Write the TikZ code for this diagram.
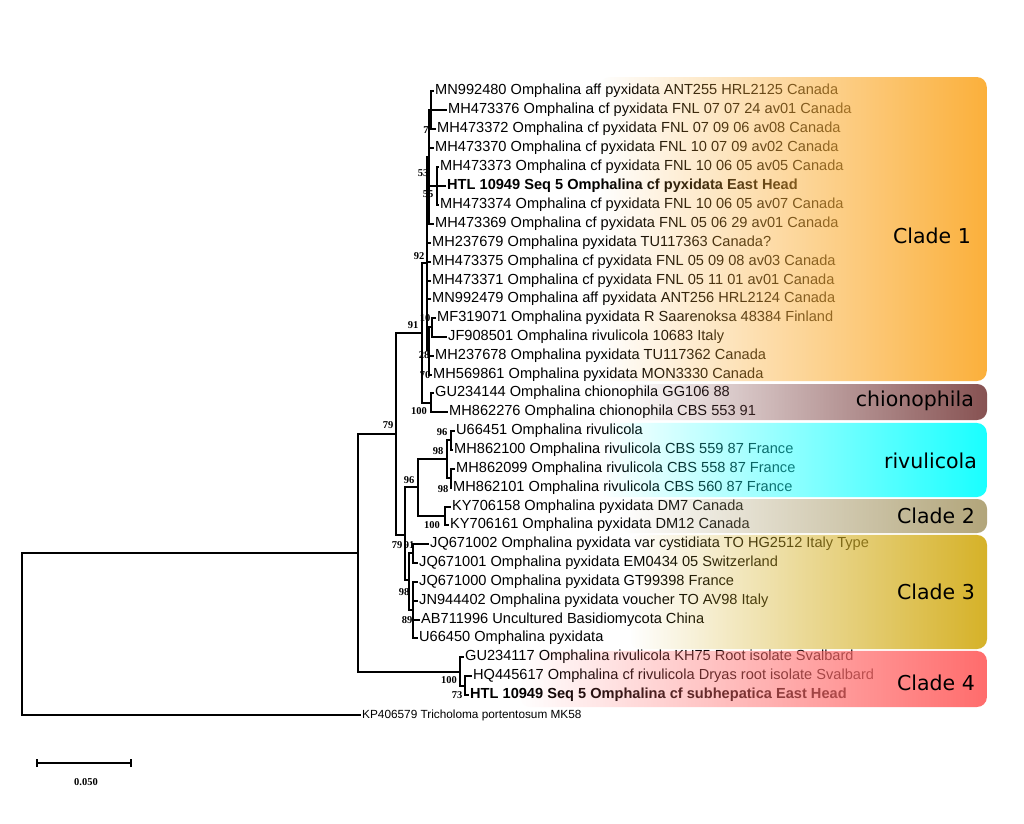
\documentclass[tikz,border=0pt]{standalone}
\usepackage{fontspec}
\setmainfont{Liberation Sans}
\newfontfamily\bsfont{Liberation Serif}
\newfontfamily\cladefont{DejaVu Sans}
\usetikzlibrary{fadings}
\tikzfading[name=fadeR, left color=transparent!100, middle color=transparent!68, right color=transparent!0]
\definecolor{cOne}{RGB}{251,176,59}
\definecolor{cChi}{RGB}{135,82,82}
\definecolor{cRiv}{RGB}{25,255,255}
\definecolor{cTwo}{RGB}{178,165,122}
\definecolor{cThree}{RGB}{214,178,40}
\definecolor{cFour}{RGB}{255,108,108}
\begin{document}
\begin{tikzpicture}[x=1pt,y=-1pt,
  leaf/.style={anchor=west, inner sep=1.5pt, font=\fontsize{14.6}{16}\selectfont},
  bs/.style={inner sep=0pt, font=\bsfont\bfseries\fontsize{10.5}{11}\selectfont},
  clade/.style={anchor=east, inner sep=0pt, font=\cladefont\fontsize{20.5}{22}\selectfont},
  edge/.style={line width=1.1pt, black},
  cladebox/.style={rounded corners=10pt, path fading=fadeR}]
\useasboundingbox (0,0) rectangle (1024,823);
\fill[white] (0,0) rectangle (1024,823);
% leaves
\node[leaf] (t1) at (433.5,91) {MN992480 Omphalina aff pyxidata ANT255 HRL2125 Canada};
\node[leaf] (t2) at (446.5,110) {MH473376 Omphalina cf pyxidata FNL 07 07 24 av01 Canada};
\node[leaf] (t3) at (435.5,129) {MH473372 Omphalina cf pyxidata FNL 07 09 06 av08 Canada};
\node[leaf] (t4) at (433.5,148) {MH473370 Omphalina cf pyxidata FNL 10 07 09 av02 Canada};
\node[leaf] (t5) at (438.5,167) {MH473373 Omphalina cf pyxidata FNL 10 06 05 av05 Canada};
\node[leaf] (t6) at (445.5,186) {\textbf{HTL 10949 Seq 5 Omphalina cf pyxidata East Head}};
\node[leaf] (t7) at (438.5,205) {MH473374 Omphalina cf pyxidata FNL 10 06 05 av07 Canada};
\node[leaf] (t8) at (433.5,224) {MH473369 Omphalina cf pyxidata FNL 05 06 29 av01 Canada};
\node[leaf] (t9) at (430.5,243) {MH237679 Omphalina pyxidata TU117363 Canada?};
\node[leaf] (t10) at (430.5,262) {MH473375 Omphalina cf pyxidata FNL 05 09 08 av03 Canada};
\node[leaf] (t11) at (430.5,281) {MH473371 Omphalina cf pyxidata FNL 05 11 01 av01 Canada};
\node[leaf] (t12) at (430.5,299) {MN992479 Omphalina aff pyxidata ANT256 HRL2124 Canada};
\node[leaf] (t13) at (435.5,318) {MF319071 Omphalina pyxidata R Saarenoksa 48384 Finland};
\node[leaf] (t14) at (446.5,337) {JF908501 Omphalina rivulicola 10683 Italy};
\node[leaf] (t15) at (433.5,356) {MH237678 Omphalina pyxidata TU117362 Canada};
\node[leaf] (t16) at (431.5,375) {MH569861 Omphalina pyxidata MON3330 Canada};
\node[leaf] (t17) at (433.5,393) {GU234144 Omphalina chionophila GG106 88};
\node[leaf] (t18) at (447.5,412) {MH862276 Omphalina chionophila CBS 553 91};
\node[leaf] (t19) at (454.5,431) {U66451 Omphalina rivulicola};
\node[leaf] (t20) at (452.5,450) {MH862100 Omphalina rivulicola CBS 559 87 France};
\node[leaf] (t21) at (454.5,469) {MH862099 Omphalina rivulicola CBS 558 87 France};
\node[leaf] (t22) at (451.5,488) {MH862101 Omphalina rivulicola CBS 560 87 France};
\node[leaf] (t23) at (450.5,507) {KY706158 Omphalina pyxidata DM7 Canada};
\node[leaf] (t24) at (448.5,525) {KY706161 Omphalina pyxidata DM12 Canada};
\node[leaf] (t25) at (428.5,544) {JQ671002 Omphalina pyxidata var cystidiata TO HG2512 Italy Type};
\node[leaf] (t26) at (417.5,563) {JQ671001 Omphalina pyxidata EM0434 05 Switzerland};
\node[leaf] (t27) at (417.5,582) {JQ671000 Omphalina pyxidata GT99398 France};
\node[leaf] (t28) at (417.5,601) {JN944402 Omphalina pyxidata voucher TO AV98 Italy};
\node[leaf] (t29) at (419.5,620) {AB711996 Uncultured Basidiomycota China};
\node[leaf] (t30) at (417.5,638) {U66450 Omphalina pyxidata};
\node[leaf] (t31) at (463.5,657) {GU234117 Omphalina rivulicola KH75 Root isolate Svalbard};
\node[leaf] (t32) at (471.5,676) {HQ445617 Omphalina cf rivulicola Dryas root isolate Svalbard};
\node[leaf] (t33) at (468.5,695) {\textbf{HTL 10949 Seq 5 Omphalina cf subhepatica East Head}};
\node[leaf, font=\fontsize{11.8}{13}\selectfont] (t34) at (360.5,715) {KP406579 Tricholoma portentosum MK58};
% internal nodes
\coordinate (R) at (22,634);
\coordinate (A) at (358,553);
\coordinate (B) at (396,434);
\coordinate (D) at (422,333);
\coordinate (E) at (427,263);
\coordinate (G1) at (429,157);
\coordinate (G7) at (431,110);
\coordinate (N55) at (432,186);
\coordinate (N73) at (437,186);
\coordinate (N28) at (429,350);
\coordinate (N10) at (432,327);
\coordinate (F) at (431,403);
\coordinate (C) at (405,535);
\coordinate (RC) at (418,487);
\coordinate (R1) at (447,459);
\coordinate (S1) at (451,440);
\coordinate (S2) at (451,478);
\coordinate (C2) at (445,516);
\coordinate (K) at (409,580);
\coordinate (N91) at (413,553);
\coordinate (N89) at (413,610);
\coordinate (C4) at (460,672);
\coordinate (S) at (465,686);
% internal edges
\foreach \p/\c in {R/A, A/B, A/C4, B/D, B/C, D/E, D/F, E/G1, E/N28, G1/G7, G1/N55,
  N55/N73, N28/N10, C/RC, C/K, RC/R1, RC/C2, R1/S1, R1/S2, K/N91, K/N89, C4/S}
  \draw[edge] (\p) |- (\c);
% leaf edges
\foreach \p/\c in {R/t34, G7/t1, G7/t2, G7/t3, G1/t4, N55/t6, N73/t5, N73/t7, G1/t8,
  E/t9, E/t10, E/t11, E/t12, N10/t13, N10/t14, N28/t15, N28/t16, F/t17, F/t18,
  S1/t19, S1/t20, S2/t21, S2/t22, C2/t23, C2/t24, N91/t25, N91/t26,
  N89/t27, N89/t28, N89/t29, N89/t30, C4/t31, S/t32, S/t33}
  \draw[edge] (\p) |- (\c.west);
% clade boxes
\fill[cOne, cladebox] (600,77) rectangle (987,381);
\fill[cChi, cladebox] (620,384) rectangle (987,420);
\fill[cRiv, cladebox] (600,423) rectangle (987,497);
\fill[cTwo, cladebox] (620,499) rectangle (987,533);
\fill[cThree, cladebox] (630,535) rectangle (987,649);
\fill[cFour, cladebox] (520,651) rectangle (987,707);
\node[clade] (L1) at (971,236) {Clade 1};
\node[clade] (L2) at (974,401) {chionophila};
\node[clade] (L3) at (977,461) {rivulicola};
\node[clade] (L4) at (975,516) {Clade 2};
\node[clade] (L5) at (975,592) {Clade 3};
\node[clade] (L6) at (975,683) {Clade 4};
% bootstrap values
\node[bs] (b1) at (426,130) {7};
\node[bs] (b2) at (423,173) {53};
\node[bs] (b3) at (428,194) {55};
\node[bs] (b4) at (419,256) {92};
\node[bs] (b5) at (413,325) {91};
\node[bs] (b6) at (425,318) {10};
\node[bs] (b7) at (424,355) {28};
\node[bs] (b8) at (425,375) {70};
\node[bs] (b9) at (419,411) {100};
\node[bs] (b10) at (388,425) {79};
\node[bs] (b11) at (442,432) {96};
\node[bs] (b12) at (438,451) {98};
\node[bs] (b13) at (409,480) {96};
\node[bs] (b14) at (443,489) {98};
\node[bs] (b15) at (432,525) {100};
\node[bs] (b16) at (397,545) {79};
\node[bs] (b17) at (409,545) {91};
\node[bs] (b18) at (404,592) {98};
\node[bs] (b19) at (407,620) {89};
\node[bs] (b20) at (449,680) {100};
\node[bs] (b21) at (457,695) {73};
% scale bar
\coordinate (sbL) at (37,763);
\coordinate (sbR) at (131,763);
\draw[edge] (sbL) -- (sbR);
\draw[edge] ([yshift=-4]sbL) -- ([yshift=4]sbL);
\draw[edge] ([yshift=-4]sbR) -- ([yshift=4]sbR);
\node[bs] (sbT) at (86,782) {0.050};
\end{tikzpicture}
\end{document}
